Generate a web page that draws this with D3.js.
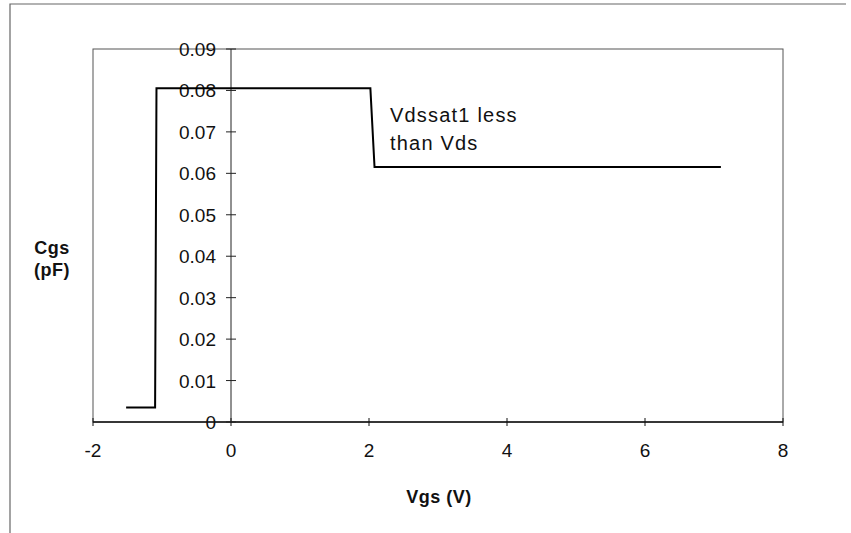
<!DOCTYPE html>
<html>
<head>
<meta charset="utf-8">
<script src="https://cdn.jsdelivr.net/npm/d3@7"></script>
<style>
  body { margin: 0; background: #fff; }
  text { font-family: "Liberation Sans", Arial, sans-serif; fill: #111; }
  .tick-label { font-size: 19px; }
  .axis-title { font-size: 18px; font-weight: bold; letter-spacing: 0.5px; }
  .note { font-size: 20px; letter-spacing: 1.2px; }
</style>
</head>
<body>
<div id="chart"></div>
<script>
// Cgs vs Vgs step curve
const vgs = [-1.52, -1.1, -1.08, 2.02, 2.08, 7.1];
const cgs = [0.0035, 0.0035, 0.0805, 0.0805, 0.0615, 0.0615];

const xTicks = [-2, 0, 2, 4, 6, 8];
const yTicks = [0, 0.01, 0.02, 0.03, 0.04, 0.05, 0.06, 0.07, 0.08, 0.09];

const W = 851, H = 533;
const plot = {left: 93, right: 783, top: 49, bottom: 422};

const svg = d3.select("#chart")
  .append("svg")
  .attr("width", W)
  .attr("height", H);

const x = d3.scaleLinear().domain([-2, 8]).range([plot.left, plot.right]);
const y = d3.scaleLinear().domain([0, 0.09]).range([plot.bottom, plot.top]);

// outer border (top and left only)
svg.append("path")
  .attr("d", `M10,533 L10,4 L846,4`)
  .attr("fill", "none")
  .attr("stroke", "#666")
  .attr("stroke-width", 1.2);

// plot area frame
svg.append("rect")
  .attr("x", plot.left)
  .attr("y", plot.top)
  .attr("width", plot.right - plot.left)
  .attr("height", plot.bottom - plot.top)
  .attr("fill", "none")
  .attr("stroke", "#555")
  .attr("stroke-width", 1);

// x axis along Cgs = 0
const xAxis = svg.append("g");
xAxis.append("line")
  .attr("x1", plot.left).attr("x2", plot.right)
  .attr("y1", y(0)).attr("y2", y(0))
  .attr("stroke", "#111").attr("stroke-width", 1.6);
xAxis.selectAll(".xt")
  .data(xTicks)
  .join("line")
  .attr("x1", d => x(d)).attr("x2", d => x(d))
  .attr("y1", y(0) - 4).attr("y2", y(0) + 4)
  .attr("stroke", "#111");
xAxis.selectAll(".xl")
  .data(xTicks)
  .join("text")
  .attr("class", "tick-label")
  .attr("x", d => x(d))
  .attr("y", y(0) + 35)
  .attr("text-anchor", "middle")
  .text(d => String(d));

// y axis along Vgs = 0
const yAxis = svg.append("g");
yAxis.append("line")
  .attr("x1", x(0)).attr("x2", x(0))
  .attr("y1", y(0)).attr("y2", y(0.09))
  .attr("stroke", "#222").attr("stroke-width", 1);
yAxis.selectAll(".yt")
  .data(yTicks)
  .join("line")
  .attr("x1", x(0) - 5).attr("x2", x(0) + 5)
  .attr("y1", d => y(d)).attr("y2", d => y(d))
  .attr("stroke", "#222");
yAxis.selectAll(".yl")
  .data(yTicks)
  .join("text")
  .attr("class", "tick-label")
  .attr("x", x(0) - 15)
  .attr("y", d => y(d) + 7)
  .attr("text-anchor", "end")
  .text(d => d === 0 ? "0" : d3.format(".2f")(d));

// the curve
const line = d3.line()
  .x((d, i) => x(vgs[i]))
  .y((d, i) => y(cgs[i]));

svg.append("path")
  .datum(vgs)
  .attr("d", line)
  .attr("fill", "none")
  .attr("stroke", "#000")
  .attr("stroke-width", 2);

// annotation
const note = svg.append("text").attr("class", "note");
note.append("tspan").attr("x", 390).attr("y", 122).text("Vdssat1 less");
note.append("tspan").attr("x", 390).attr("y", 150).text("than Vds");

// axis titles
const yTitle = svg.append("text")
  .attr("class", "axis-title")
  .attr("text-anchor", "middle");
yTitle.append("tspan").attr("x", 52).attr("y", 254).text("Cgs");
yTitle.append("tspan").attr("x", 52).attr("y", 276).text("(pF)");

svg.append("text")
  .attr("class", "axis-title")
  .attr("x", 439)
  .attr("y", 503)
  .attr("text-anchor", "middle")
  .text("Vgs (V)");
</script>
</body>
</html>
